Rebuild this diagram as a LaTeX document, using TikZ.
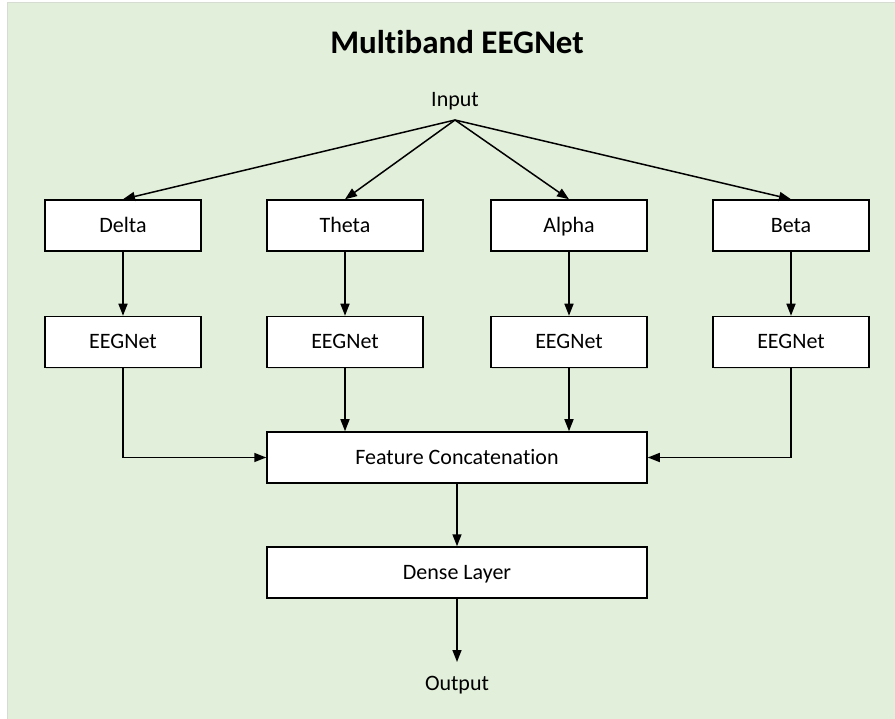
\documentclass[tikz,border=0pt]{standalone}
\usepackage{fontspec}
\setmainfont{Carlito}[Ligatures=NoCommon]
\usetikzlibrary{arrows.meta,shadows}
\definecolor{panelgreen}{HTML}{E2EFDA}
\definecolor{panelrim}{HTML}{D6DCD2}
\tikzset{
  stage/.style={draw=black, line width=1.5pt, fill=white, minimum height=51pt,
    inner sep=0pt, font=\fontsize{22}{24}\selectfont, text height=14pt, text depth=0pt,
    drop shadow={opacity=0.18, shadow xshift=1.2pt, shadow yshift=-1.2pt}},
  bandbox/.style={stage, minimum width=156pt},
  widebox/.style={stage, minimum width=380pt},
  label/.style={font=\fontsize{22}{24}\selectfont, inner sep=0pt, text height=14pt, text depth=0pt},
  flow/.style={draw=black, line width=1.5pt, -{Triangle[length=12pt,width=9pt]}},
}
\begin{document}
\begin{tikzpicture}[x=1pt,y=-1pt]
\useasboundingbox (0,0) rectangle (895,719);
% panel
\fill[white] (0,0) rectangle (895,719);
\fill[panelgreen] (7,3) rectangle (895,719);
\draw[panelrim, line width=1pt] (7,719) -- (7,3) -- (895,3);

% title and terminals
\node[font=\fontsize{33}{36}\selectfont\bfseries, inner sep=0pt, text height=21pt, text depth=0pt] (title) at (457,43) {Multiband EEGNet};
\node[label] (input) at (455,100) {Input};
\coordinate (fan) at (455,120);
\node[label] (output) at (457,683) {Output};
\coordinate (outtip) at (457,662);

% frequency bands
\node[bandbox] (delta) at (123,225.5) {Delta};
\node[bandbox] (theta) at (345,225.5) {Theta};
\node[bandbox] (alpha) at (569,225.5) {Alpha};
\node[bandbox] (beta)  at (791,225.5) {Beta};

% per-band networks
\node[bandbox] (net1) at (123,342) {EEGNet};
\node[bandbox] (net2) at (345,342) {EEGNet};
\node[bandbox] (net3) at (569,342) {EEGNet};
\node[bandbox] (net4) at (791,342) {EEGNet};

% fusion and classifier
\node[widebox] (concat) at (457,457.5) {Feature Concatenation};
\node[widebox] (dense)  at (457,572.5) {Dense Layer};

% input fan-out
\draw[flow] (fan) -- (delta.north);
\draw[flow] (fan) -- (theta.north);
\draw[flow] (fan) -- (alpha.north);
\draw[flow] (fan) -- (beta.north);

% bands into networks
\draw[flow] (delta) -- (net1);
\draw[flow] (theta) -- (net2);
\draw[flow] (alpha) -- (net3);
\draw[flow] (beta)  -- (net4);

% networks into concatenation
\draw[flow] (net1.south) |- (concat.west);
\draw[flow] (net2.south) -- (net2.south |- concat.north);
\draw[flow] (net3.south) -- (net3.south |- concat.north);
\draw[flow] (net4.south) |- (concat.east);

% classifier head
\draw[flow] (concat) -- (dense);
\draw[flow] (dense.south) -- (outtip);
\end{tikzpicture}
\end{document}
